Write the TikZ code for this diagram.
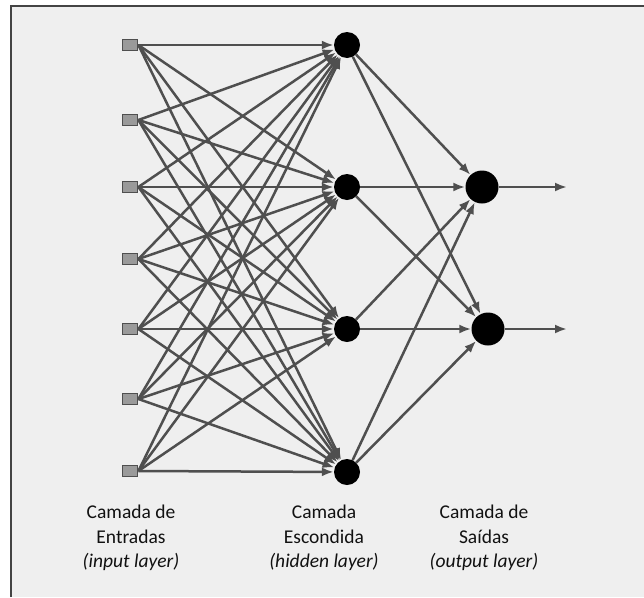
\documentclass[tikz,border=0pt]{standalone}
\usepackage{fontspec}
\setmainfont{Carlito}
\usetikzlibrary{arrows.meta}
\definecolor{panelbg}{HTML}{EFEFEF}
\definecolor{framecol}{HTML}{444444}
\definecolor{wirecol}{HTML}{4F4F4F}
\definecolor{unitfill}{HTML}{9A9A9A}
\definecolor{textcol}{HTML}{111111}
\begin{document}
\begin{tikzpicture}[x=1pt,y=-1pt,
  inunit/.style={draw=wirecol, fill=unitfill, line width=1.8pt, minimum width=15pt, minimum height=11pt, inner sep=0pt},
  hidunit/.style={circle, fill=black, minimum size=26pt, inner sep=0pt},
  outunit/.style={circle, fill=black, minimum size=33pt, inner sep=0pt},
  link/.style={draw=wirecol, line width=2.5pt, -{Latex[length=12pt,width=9pt]}},
  caption/.style={align=center, font=\fontsize{19.5}{24.5}\selectfont, text=textcol}
]
\useasboundingbox (0,0) rectangle (644,597);
% panel
\fill[panelbg] (11,6) rectangle (644,597);
\draw[framecol, line width=1.6pt] (11,597) -- (11,6) -- (644,6);

% input layer
\foreach \i/\y in {1/45, 2/120, 3/187, 4/259, 5/329, 6/399, 7/471}
  \node[inunit] (i\i) at (130,\y) {};
% hidden layer
\foreach \h/\y in {1/45, 2/187, 3/329, 4/472}
  \node[hidunit] (h\h) at (347,\y) {};
% output layer
\node[outunit] (o1) at (482,187) {};
\node[outunit] (o2) at (488,329) {};
\coordinate (y1) at (567,187);
\coordinate (y2) at (567,329);

% connections
\foreach \i in {1,...,7}
  \foreach \h in {1,...,4}
    \draw[link] (i\i.east) -- (h\h);
\foreach \h in {1,...,4}
  \foreach \o in {1,2}
    \draw[link] (h\h) -- (o\o);
\draw[link] (o1) -- (y1);
\draw[link] (o2) -- (y2);

% redraw input units above the wires
\foreach \i/\y in {1/45, 2/120, 3/187, 4/259, 5/329, 6/399, 7/471}
  \node[inunit] at (130,\y) {};

% captions
\node[caption] (c1) at (131,538) {Camada de\\Entradas\\\textit{(input layer)}};
\node[caption] (c2) at (324,538) {Camada\\Escondida\\\textit{(hidden layer)}};
\node[caption] (c3) at (484,538) {Camada de\\Saídas\\\textit{(output layer)}};
\end{tikzpicture}
\end{document}
